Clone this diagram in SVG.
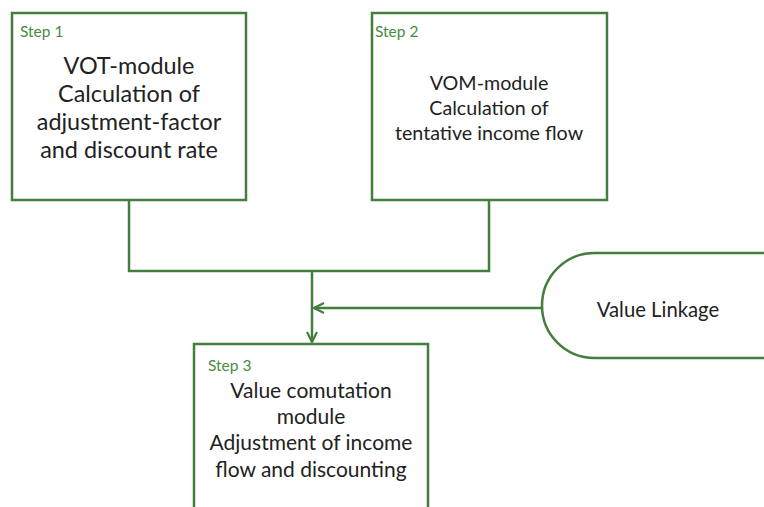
<svg xmlns="http://www.w3.org/2000/svg" width="764" height="507" viewBox="0 0 764 507">
  <defs>
    <style>
      .box { fill: #ffffff; stroke: #437e3f; stroke-width: 2.5; }
      .wire { fill: none; stroke: #437e3f; stroke-width: 2.5; }
      .step { font-family: "Lato", "Liberation Sans", sans-serif; font-size: 15.5px; fill: #4a8a45; }
      .body { font-family: "Lato", "Liberation Sans", sans-serif; font-size: 23.4px; fill: #222222; text-anchor: middle; }
      .mid { font-size: 19.7px; }
      .low { font-size: 21px; }
      .pill { font-size: 20.3px; }
    </style>
    <marker id="arrow" viewBox="0 0 12 12" refX="11" refY="6" markerWidth="12" markerHeight="12" markerUnits="userSpaceOnUse" orient="auto">
      <path d="M1,1 L11,6 L1,11" fill="none" stroke="#437e3f" stroke-width="2.2"/>
    </marker>
  </defs>
  <rect width="764" height="507" fill="#ffffff"/>

  <g id="connectors">
    <path class="wire" d="M129,200 V271 H489 V200"/>
    <path class="wire" d="M312,271 V342" marker-end="url(#arrow)"/>
    <path class="wire" d="M542,308 H314" marker-end="url(#arrow)"/>
  </g>

  <g id="step1">
    <rect class="box" x="12" y="13" width="234" height="187"/>
    <text class="step" x="20" y="37">Step 1</text>
    <text class="body" x="129" y="74">VOT-module</text>
    <text class="body" x="129" y="102">Calculation of</text>
    <text class="body" x="129" y="130">adjustment-factor</text>
    <text class="body" x="129" y="158">and discount rate</text>
  </g>

  <g id="step2">
    <rect class="box" x="372" y="13" width="235" height="187"/>
    <text class="step" x="375" y="37">Step 2</text>
    <text class="body mid" x="489" y="90">VOM-module</text>
    <text class="body mid" x="489" y="115">Calculation of</text>
    <text class="body mid" x="489" y="140">tentative income flow</text>
  </g>

  <g id="step3">
    <rect class="box" x="194" y="344" width="234" height="180"/>
    <text class="step" x="208" y="371">Step 3</text>
    <text class="body low" x="311" y="398">Value comutation</text>
    <text class="body low" x="311" y="424">module</text>
    <text class="body low" x="311" y="450">Adjustment of income</text>
    <text class="body low" x="311" y="477">flow and discounting</text>
  </g>

  <g id="value-linkage">
    <rect class="box" x="542" y="253" width="280" height="105" rx="52.5" ry="52.5"/>
    <text class="body pill" x="658" y="317">Value Linkage</text>
  </g>
</svg>
